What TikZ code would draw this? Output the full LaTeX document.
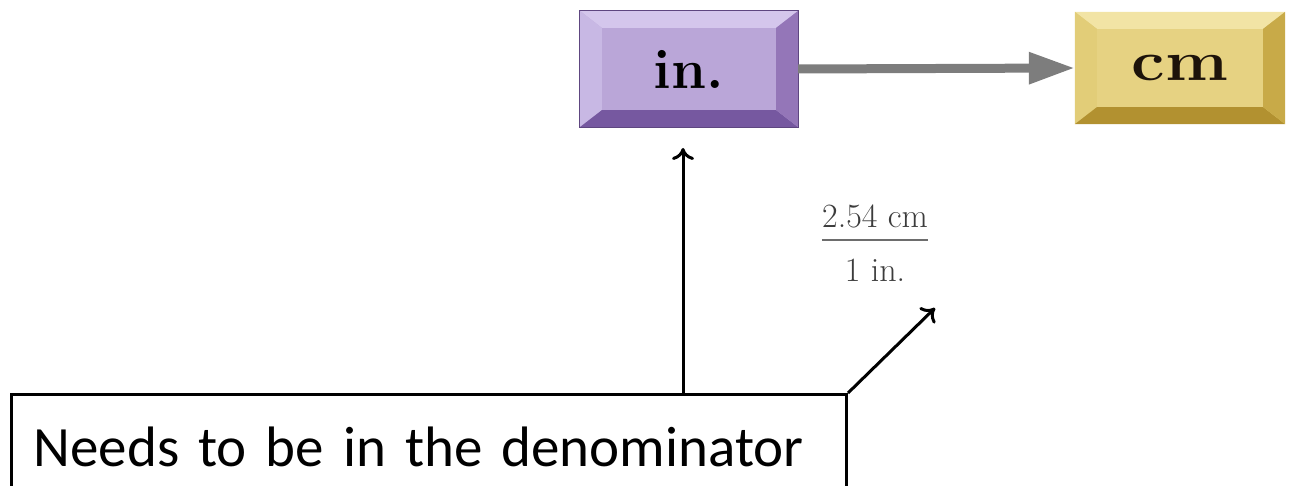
\documentclass[tikz,border=0pt]{standalone}
\usepackage{fontspec}
\newfontfamily\calib{Carlito}
\usetikzlibrary{arrows.meta,calc}
\definecolor{pface}{RGB}{186,166,216}
\definecolor{ptop}{RGB}{212,198,236}
\definecolor{pleft}{RGB}{200,184,228}
\definecolor{pbot}{RGB}{118,88,160}
\definecolor{pright}{RGB}{148,118,184}
\definecolor{gface}{RGB}{230,210,130}
\definecolor{gtop}{RGB}{242,228,165}
\definecolor{gleft}{RGB}{226,205,120}
\definecolor{gbot}{RGB}{178,145,48}
\definecolor{gright}{RGB}{200,170,72}
\definecolor{arrgray}{RGB}{125,125,125}
\definecolor{fractext}{RGB}{60,60,60}
\newcommand\bevelsides[5]{%
  \fill[#2] (#1.north west) -- (#1.north east) -- ($(#1.north east)+(-22,17)$) -- ($(#1.north west)+(22,17)$) -- cycle;
  \fill[#3] (#1.north west) -- ($(#1.north west)+(22,17)$) -- ($(#1.south west)+(22,-17)$) -- (#1.south west) -- cycle;
  \fill[#4] (#1.south west) -- ($(#1.south west)+(22,-17)$) -- ($(#1.south east)+(-22,-17)$) -- (#1.south east) -- cycle;
  \fill[#5] (#1.north east) -- ($(#1.north east)+(-22,17)$) -- ($(#1.south east)+(-22,-17)$) -- (#1.south east) -- cycle;
}
\tikzset{
  bevelbox/.style={rectangle, inner sep=0pt, font=\fontsize{56}{60}\selectfont\bfseries},
  fractxt/.style={text=fractext, inner sep=0pt, font=\fontsize{34}{38}\selectfont},
  conv/.style={draw=arrgray, line width=9pt, -{Triangle[length=46pt,width=30pt]}},
  pointer/.style={draw=black, line width=3pt, -{To[length=12pt,width=22pt]}},
  notebox/.style={draw=black, line width=3pt, anchor=north west, inner xsep=22pt, inner ysep=30pt,
    text width=791pt, align=left, text height=42pt, text depth=70pt, font=\calib\fontsize{57}{62}\selectfont}
}
\begin{document}
\begin{tikzpicture}[x=1pt,y=-1pt]
\useasboundingbox (0,0) rectangle (1289,486);
\node[bevelbox, fill=pface, minimum width=218pt, minimum height=116pt] (inbox) at (689,69) {};
\bevelsides{inbox}{ptop}{pleft}{pbot}{pright}
\draw[pbot!80!black, line width=1pt] (inbox.north west) rectangle (inbox.south east);
\node[bevelbox] at (inbox.center) {in.};
\node[bevelbox, fill=gface, minimum width=210pt, minimum height=112pt] (cmbox) at (1180,68) {};
\bevelsides{cmbox}{gtop}{gleft}{gbot}{gright}
\node[bevelbox, text=black!85!brown] at (cmbox.center) {\scalebox{1.2}[1]{cm}};
\draw[conv] (inbox.east) -- (cmbox.west);
\node[fractxt, anchor=base] (num) at (875,228) {2.54 cm};
\node[fractxt, anchor=base] (den) at (875,281) {1 in.};
\draw[draw=fractext!75, line width=2.5pt] (num.west |- 0,240) -- (num.east |- 0,240);
\node[notebox] (note) at (10,393) {Needs to be in the denominator};
\coordinate (tipA) at (683,148);
\coordinate (tipB) at (935,308);
\draw[pointer] (note.north -| tipA) -- (tipA);
\draw[pointer] (note.north east) -- (tipB);
\end{tikzpicture}
\end{document}
